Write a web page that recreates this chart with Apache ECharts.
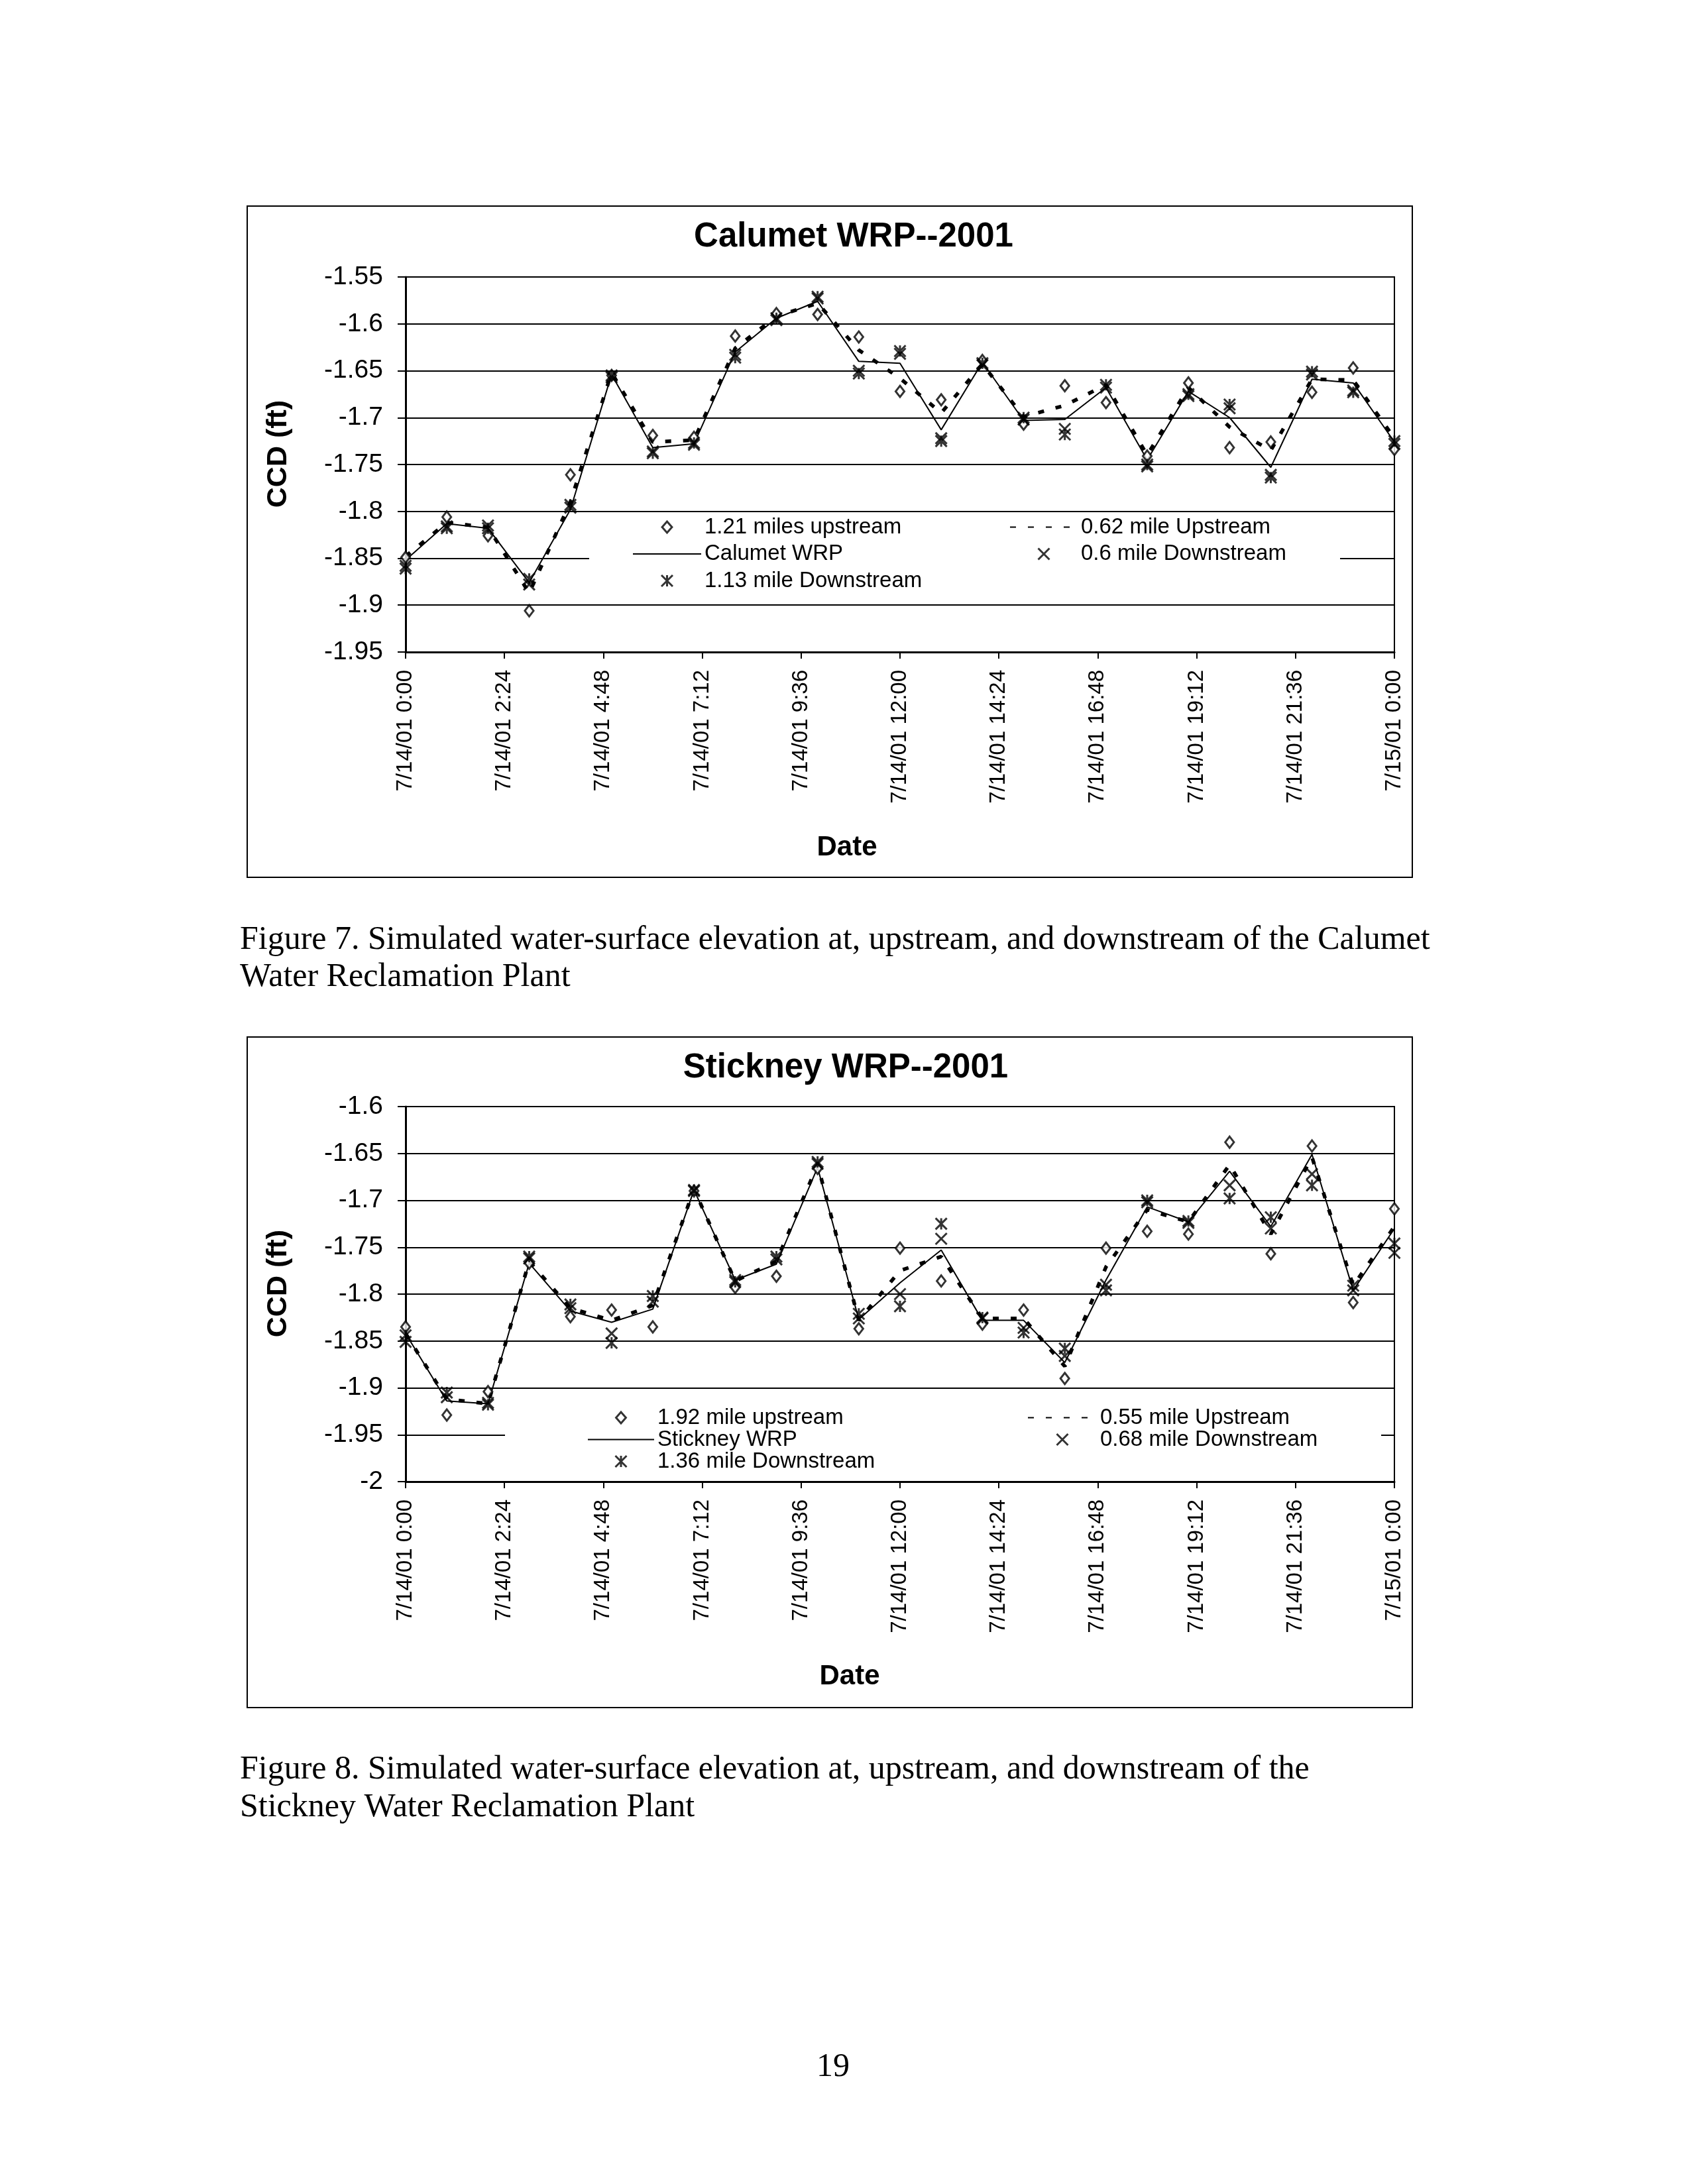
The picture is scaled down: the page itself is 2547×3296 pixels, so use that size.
<!DOCTYPE html>
<html><head><meta charset="utf-8">
<script src="https://cdn.jsdelivr.net/npm/echarts@6/dist/echarts.min.js"></script>
<style>html,body{margin:0;padding:0;background:#fff}#c{width:2547px;height:3296px}</style>
</head><body><div id="c"></div>
<script>
// ---------------- data ----------------
const hours = [0,1,2,3,4,5,6,7,8,9,10,11,12,13,14,15,16,17,18,19,20,21,22,23,24];
const xTickLabels = ['7/14/01 0:00','7/14/01 2:24','7/14/01 4:48','7/14/01 7:12','7/14/01 9:36','7/14/01 12:00','7/14/01 14:24','7/14/01 16:48','7/14/01 19:12','7/14/01 21:36','7/15/01 0:00'];
const yTicksCal = ['-1.95','-1.9','-1.85','-1.8','-1.75','-1.7','-1.65','-1.6','-1.55'];
const yTicksStk = ['-2','-1.95','-1.9','-1.85','-1.8','-1.75','-1.7','-1.65','-1.6'];

// Calumet WRP--2001
const calUp121   = [-1.849,-1.806,-1.826,-1.906,-1.761,-1.655,-1.719,-1.721,-1.613,-1.589,-1.590,-1.614,-1.672,-1.681,-1.639,-1.707,-1.666,-1.684,-1.741,-1.663,-1.732,-1.726,-1.673,-1.647,-1.734];
const calWRP     = [-1.852,-1.813,-1.818,-1.876,-1.798,-1.654,-1.732,-1.728,-1.630,-1.594,-1.576,-1.640,-1.642,-1.713,-1.641,-1.703,-1.702,-1.668,-1.745,-1.672,-1.700,-1.753,-1.659,-1.663,-1.726];
const calDown113 = [-1.861,-1.818,-1.818,-1.872,-1.793,-1.655,-1.738,-1.727,-1.636,-1.594,-1.571,-1.653,-1.629,-1.725,-1.642,-1.700,-1.718,-1.665,-1.750,-1.675,-1.686,-1.764,-1.651,-1.673,-1.725];
const calUp062   = [-1.848,-1.812,-1.817,-1.887,-1.790,-1.652,-1.726,-1.724,-1.626,-1.592,-1.578,-1.628,-1.658,-1.695,-1.643,-1.699,-1.687,-1.665,-1.740,-1.668,-1.710,-1.735,-1.659,-1.660,-1.722];
const calDown06  = [-1.858,-1.816,-1.815,-1.878,-1.796,-1.657,-1.736,-1.729,-1.633,-1.596,-1.573,-1.650,-1.632,-1.722,-1.644,-1.702,-1.712,-1.668,-1.752,-1.677,-1.690,-1.761,-1.654,-1.671,-1.728];

// Stickney WRP--2001
const stkUp192   = [-1.835,-1.929,-1.904,-1.767,-1.824,-1.817,-1.835,-1.690,-1.793,-1.781,-1.666,-1.837,-1.751,-1.786,-1.832,-1.817,-1.890,-1.751,-1.733,-1.736,-1.638,-1.757,-1.642,-1.809,-1.709];
const stkWRP     = [-1.842,-1.914,-1.917,-1.767,-1.818,-1.830,-1.816,-1.689,-1.785,-1.768,-1.665,-1.827,-1.788,-1.753,-1.828,-1.828,-1.873,-1.785,-1.707,-1.723,-1.669,-1.728,-1.651,-1.796,-1.730];
const stkDown136 = [-1.844,-1.905,-1.918,-1.760,-1.811,-1.852,-1.802,-1.689,-1.787,-1.760,-1.659,-1.821,-1.813,-1.725,-1.825,-1.841,-1.858,-1.796,-1.700,-1.722,-1.698,-1.718,-1.684,-1.791,-1.746];
const stkUp055   = [-1.842,-1.912,-1.917,-1.765,-1.815,-1.828,-1.812,-1.688,-1.786,-1.765,-1.662,-1.828,-1.775,-1.760,-1.826,-1.826,-1.877,-1.771,-1.710,-1.723,-1.662,-1.736,-1.654,-1.791,-1.728];
const stkDown068 = [-1.851,-1.910,-1.916,-1.762,-1.815,-1.842,-1.808,-1.690,-1.785,-1.763,-1.661,-1.826,-1.800,-1.741,-1.826,-1.836,-1.866,-1.790,-1.702,-1.724,-1.684,-1.730,-1.672,-1.796,-1.756];

// ---------------- styling helpers ----------------
const FONT = 'Liberation Sans, Arial, Helvetica, sans-serif';
const SERIF = 'Liberation Serif, Times New Roman, serif';
const DIAMOND = 'path://M7,0L14,8L7,16L0,8Z';
const STAR = 'path://M0,0L16,16M16,0L0,16M8,0L8,16';
const XMARK = 'path://M0,0L16,16M16,0L0,16';

function pairs(vals){ return hours.map((h,i)=>[h, vals[i]]); }
function lineSeries(name, vals, gi, dashed){
  return {type:'line', name, xAxisIndex:gi, yAxisIndex:gi, data:pairs(vals),
    symbol:'circle', showSymbol:false, silent:true, animation:false,
    itemStyle:{color:'rgba(0,0,0,0)', borderColor:'rgba(0,0,0,0)', borderWidth:0},
    lineStyle:{color:'#000', width: dashed?5.5:2, type: dashed?[9,18]:'solid', cap:'butt'},
    emphasis:{disabled:true}, z:2};
}
function markSeries(name, vals, gi, sym, fill){
  return {type:'scatter', name, xAxisIndex:gi, yAxisIndex:gi, data:pairs(vals),
    symbol:sym, symbolSize: sym===DIAMOND?[15,17]:[17,17], symbolKeepAspect:true,
    silent:true, animation:false,
    itemStyle:{color:fill, borderColor:'#000', borderWidth:3},
    emphasis:{disabled:true}, z:3};
}
function xAxis(gi){
  return {type:'value', gridIndex:gi, min:0, max:24, interval:2.4,
    axisLine:{show:true, onZero:false, lineStyle:{color:'#000', width:3}},
    axisTick:{show:true, length:10, lineStyle:{color:'#000', width:2}},
    splitLine:{show:false},
    axisLabel:{rotate:90, margin:27, fontSize:33, fontFamily:FONT, color:'#000',
      formatter: v => xTickLabels[Math.round(v/2.4)] }};
}
function yAxis(gi, min, max, ticks){
  return {type:'value', gridIndex:gi, min, max, interval:0.05,
    axisLine:{show:true, onZero:false, lineStyle:{color:'#000', width:3}},
    axisTick:{show:true, length:12, lineStyle:{color:'#000', width:2}},
    splitLine:{show:true, lineStyle:{color:'#000', width:2}},
    axisLabel:{margin:34, fontSize:39, fontFamily:FONT, color:'#000',
      formatter: v => ticks[Math.round((v-min)/0.05)] }};
}
function legend(names, left, top, itemWidth, gap){
  return {data:names, orient:'vertical', left, top, itemWidth, itemHeight:17, itemGap:gap,
    padding:0, selectedMode:false, backgroundColor:'transparent',
    itemStyle:{borderWidth:3},
    textStyle:{fontSize:33, lineHeight:32, fontFamily:FONT, color:'#000'}};
}
function txt(x, y, text, size, opts){
  opts = opts || {};
  return {type:'text', x, y, rotation: opts.rot||0, z:10, silent:true,
    style:{text, fontSize:size, fontFamily: opts.family||FONT, fontWeight: opts.bold?'bold':'normal',
      fill:'#000', align: opts.align||'center', verticalAlign:'middle'}};
}

const option = {
  backgroundColor:'#fff',
  animation:false,
  grid:[
    {left:612, top:418, width:1492, height:566, show:true, borderColor:'#000', borderWidth:2, backgroundColor:'transparent'},
    {left:612, top:1670, width:1492, height:566, show:true, borderColor:'#000', borderWidth:2, backgroundColor:'transparent'}
  ],
  xAxis:[xAxis(0), xAxis(1)],
  yAxis:[yAxis(0,-1.95,-1.55,yTicksCal), yAxis(1,-2,-1.6,yTicksStk)],
  legend:[
    legend(['1.21 miles upstream','Calumet WRP','1.13 mile Downstream'], 954, 779, 103, 7.5),
    legend(['0.62 mile Upstream','0.6 mile Downstream'], 1523, 779, 102, 7.5),
    legend(['1.92 mile upstream','Stickney WRP','1.36 mile Downstream'], 886, 2123, 100, 0),
    legend(['0.55 mile Upstream','0.68 mile Downstream'], 1550, 2123, 104, 0)
  ],
  series:[
    lineSeries('Calumet WRP', calWRP, 0, false),
    lineSeries('0.62 mile Upstream', calUp062, 0, true),
    markSeries('1.21 miles upstream', calUp121, 0, DIAMOND, '#fff'),
    markSeries('1.13 mile Downstream', calDown113, 0, STAR, 'rgba(0,0,0,0)'),
    markSeries('0.6 mile Downstream', calDown06, 0, XMARK, 'rgba(0,0,0,0)'),
    lineSeries('Stickney WRP', stkWRP, 1, false),
    lineSeries('0.55 mile Upstream', stkUp055, 1, true),
    markSeries('1.92 mile upstream', stkUp192, 1, DIAMOND, '#fff'),
    markSeries('1.36 mile Downstream', stkDown136, 1, STAR, 'rgba(0,0,0,0)'),
    markSeries('0.68 mile Downstream', stkDown068, 1, XMARK, 'rgba(0,0,0,0)')
  ],
  graphic:{elements:[
    // chart frames
    {type:'rect', shape:{x:373, y:311, width:1758, height:1013}, z:1, silent:true, style:{fill:'none', stroke:'#000', lineWidth:2}},
    {type:'rect', shape:{x:373, y:1565, width:1758, height:1012}, z:1, silent:true, style:{fill:'none', stroke:'#000', lineWidth:2}},
    // legend backgrounds
    {type:'rect', shape:{x:889, y:776, width:1133, height:132}, z:3, silent:true, style:{fill:'#fff'}},
    {type:'rect', shape:{x:762, y:2100, width:1322, height:130}, z:3, silent:true, style:{fill:'#fff'}},
    // titles
    txt(1288, 358, 'Calumet WRP--2001', 51, {bold:true}),
    txt(1276, 1612, 'Stickney WRP--2001', 51, {bold:true}),
    // axis names
    txt(420, 685, 'CCD (ft)', 43, {bold:true, rot:Math.PI/2}),
    txt(420, 1937, 'CCD (ft)', 43, {bold:true, rot:Math.PI/2}),
    txt(1278, 1279, 'Date', 42, {bold:true}),
    txt(1282, 2530, 'Date', 42, {bold:true}),
    // captions
    txt(362, 1419, 'Figure 7. Simulated water-surface elevation at, upstream, and downstream of the Calumet', 50, {family:SERIF, align:'left'}),
    txt(362, 1475, 'Water Reclamation Plant', 50, {family:SERIF, align:'left'}),
    txt(362, 2671, 'Figure 8. Simulated water-surface elevation at, upstream, and downstream of the', 50, {family:SERIF, align:'left'}),
    txt(362, 2728, 'Stickney Water Reclamation Plant', 50, {family:SERIF, align:'left'}),
    txt(1257, 3120, '19', 50, {family:SERIF})
  ]}
};
const chart = echarts.init(document.getElementById('c'), null, {renderer:'canvas', width:2547, height:3296});
chart.setOption(option);
</script>
</body></html>
